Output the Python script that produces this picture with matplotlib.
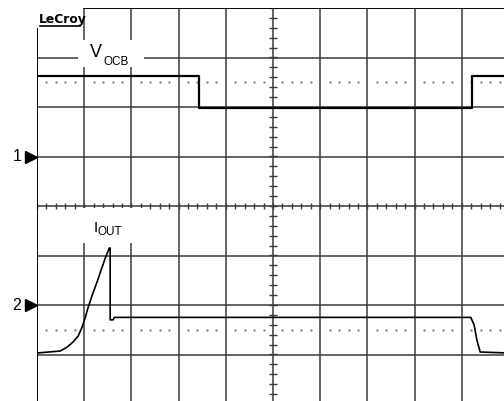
import numpy as np
import matplotlib
matplotlib.use("Agg")
from matplotlib import pyplot as plt
from matplotlib.patches import Rectangle

plt.rcParams['font.family'] = ['Liberation Sans', 'DejaVu Sans']

# screen is 10 x 8 divisions, values below are in divisions
# channel 1 (V_OCB)
ch1_t = [-5.0, -1.57, -1.57, 4.22, 4.22, 5.0]
ch1_v = [2.63, 2.63, 1.98, 1.98, 2.63, 2.63]

# channel 2 (I_OUT)
ch2_t = [-5.0, -4.51, -4.36, -4.24, -4.13, -4.05, -3.98, -3.92, -3.83, -3.73,
         -3.64, -3.56, -3.47, -3.45, -3.45, -3.39, -3.36, 4.19, 4.26, 4.32,
         4.39, 5.0]
ch2_v = [-2.97, -2.93, -2.85, -2.75, -2.63, -2.46, -2.26, -2.06, -1.80, -1.54,
         -1.29, -1.07, -0.85, -0.85, -2.30, -2.30, -2.25, -2.25, -2.40, -2.71,
         -2.95, -2.97]

ground_levels = [1.0, -2.0]       # channel markers 1 and 2
dotted_levels = [2.5, -2.5]
channel_names = ['1', '2']

fig = plt.figure(figsize=(5.04, 4.01), dpi=100)
# grid runs a bit past the right and bottom edge of the picture
ax = fig.add_axes([37/504, -3/401, 472/504, 396/401])
ax.set_xlim(-5, 5)
ax.set_ylim(-4, 4)
ax.axis('off')

gcol = '#3a3a3a'
for x in range(-5, 6):
    ax.axvline(x, color=gcol, lw=1.1, zorder=1)
for y in range(-4, 5):
    ax.axhline(y, color=gcol, lw=1.1, zorder=1)

# minor ticks on center axes
minor = np.arange(-5, 5.01, 0.2)
ax.vlines(minor, -0.07, 0.07, color=gcol, lw=1.0, zorder=1)
minor_y = np.arange(-4, 4.01, 0.2)
ax.hlines(minor_y, -0.075, 0.075, color=gcol, lw=1.0, zorder=1)

# dotted reference lines
dots = np.array([d for d in np.arange(-5, 5.01, 0.2) if abs(d - round(d)) > 0.01])
for lvl in dotted_levels:
    ax.plot(dots, np.full(len(dots), lvl), ls='none', marker='s', ms=1.4,
            mec='none', color='#6e6e6e', zorder=2)

# label boxes (white background hides the grid)
ax.add_patch(Rectangle((-4.13, 2.81), 1.40, 0.54, fc='white', ec='none', zorder=3))
ax.add_patch(Rectangle((-4.13, -0.75), 1.40, 0.71, fc='white', ec='none', zorder=3))
ax.add_patch(Rectangle((-5.0, 3.6), 0.98, 0.4, fc='white', ec='none', zorder=3))

ax.plot(ch1_t, ch1_v, color='black', lw=1.6, zorder=4)
ax.plot(ch2_t, ch2_v, color='black', lw=1.2, zorder=4)

ax.text(-3.88, 3.01, 'V', fontsize=13, va='baseline', zorder=5)
ax.text(-3.60, 2.85, 'OCB', fontsize=8.5, va='baseline', zorder=5)
ax.text(-3.81, -0.525, 'I', fontsize=11, va='baseline', zorder=5)
ax.text(-3.71, -0.59, 'OUT', fontsize=8.5, va='baseline', zorder=5)

# logo
ax.text(-4.96, 3.70, 'LeCroy', fontsize=8.8, fontweight='bold', family='DejaVu Sans',
        va='baseline', zorder=5)
ax.plot([-4.94, -4.08], [3.64, 3.64], color='black', lw=1.2, zorder=5)

# channel ground markers
for lvl, name in zip(ground_levels, channel_names):
    ax.plot([-5.13], [lvl], marker='>', ms=8.5, color='black', clip_on=False)
    ax.text(-5.33, lvl, name, fontsize=11.5, ha='right', va='center')

ax.plot([-5, 5], [4, 4], color='black', lw=1.3, zorder=2)
ax.plot([-5, -5], [-4, 4], color='black', lw=1.3, zorder=2)

fig.savefig('out.png', dpi=100)
